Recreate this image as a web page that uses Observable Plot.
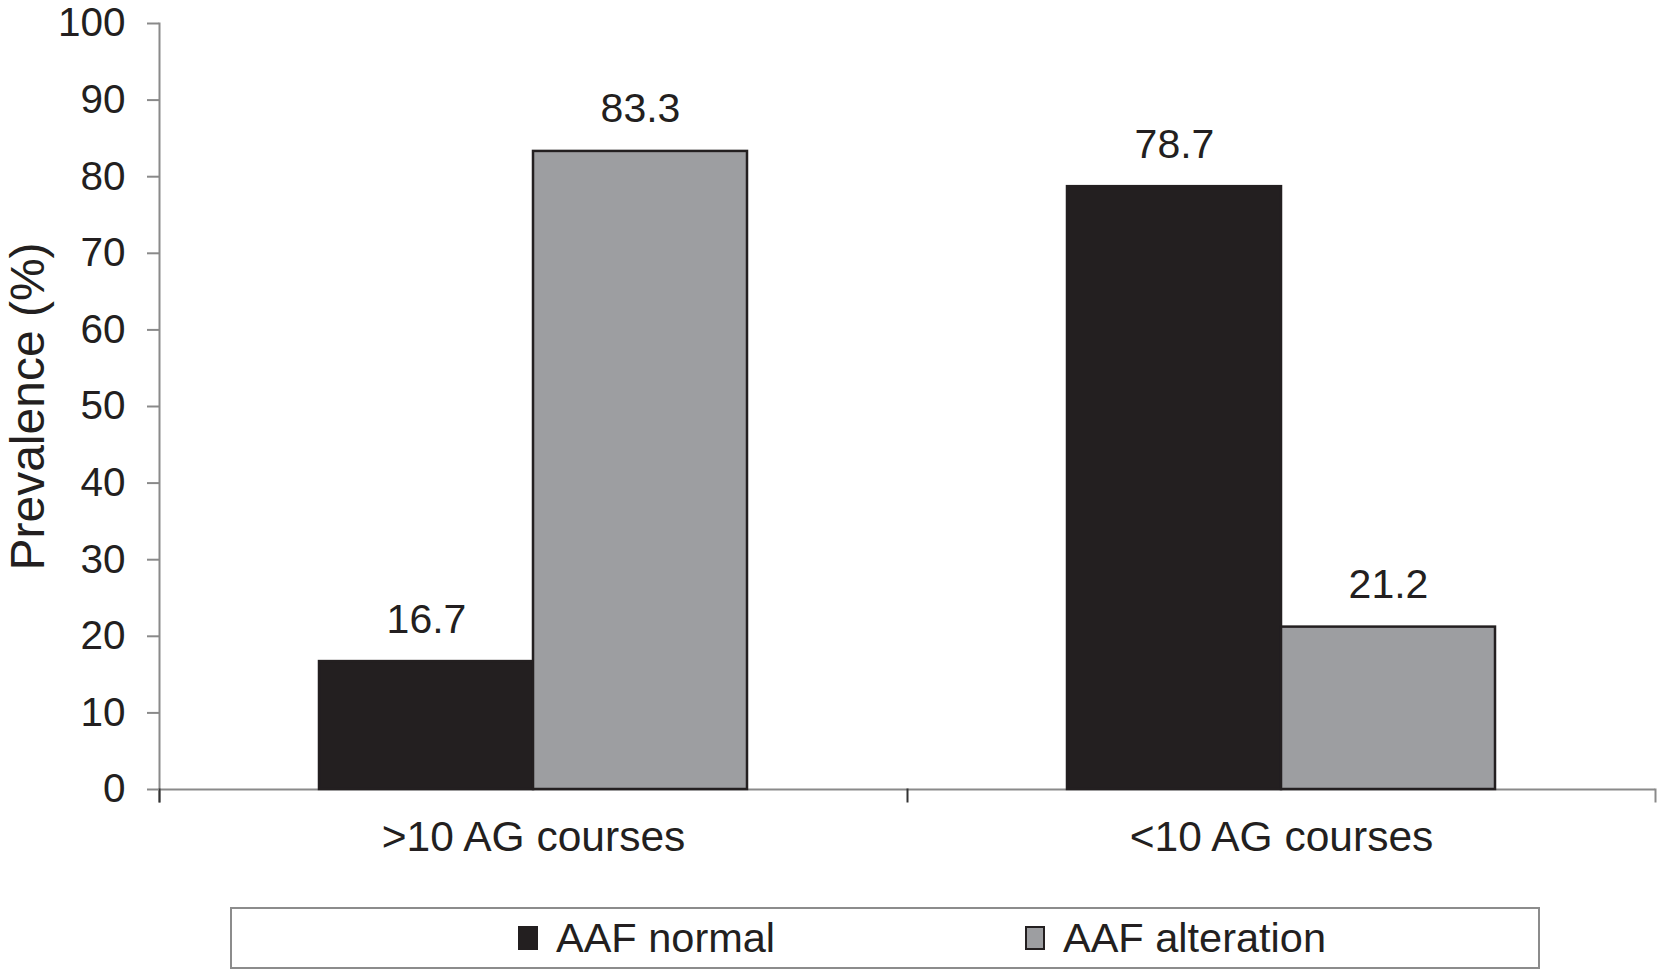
<!DOCTYPE html>
<html>
<head>
<meta charset="utf-8">
<script src="https://cdn.jsdelivr.net/npm/d3@7"></script>
<script src="https://cdn.jsdelivr.net/npm/@observablehq/plot@0.6"></script>
<style>
  html, body { margin: 0; padding: 0; background: #fff; }
  body { width: 1658px; height: 976px; overflow: hidden; font-family: "Liberation Sans", Arial, sans-serif; color: #231f20; }
  #chart svg { display: block; }
  #legend { position: relative; margin-left: 230px; margin-top: 17px; width: 1306px; height: 58px; border: 2px solid #8c8c8c; box-sizing: content-box; }
  .item { position: absolute; top: 0; height: 58px; display: flex; align-items: center; font-size: 41.5px; }
  .swatch { width: 20px; height: 24px; box-sizing: border-box; border: 2px solid #231f20; margin-right: 18px; }
</style>
</head>
<body>
<div id="chart"></div>
<div id="legend"></div>
<script>
const categories = [">10 AG courses", "<10 AG courses"];
const series = ["AAF normal", "AAF alteration"];
const normalValues = [16.7, 78.7];
const alterationValues = [83.3, 21.2];
const yTicks = [0, 10, 20, 30, 40, 50, 60, 70, 80, 90, 100];
const colors = ["#231f20", "#9d9ea1"];

const data = [];
categories.forEach((c, i) => {
  data.push({category: c, series: series[0], value: normalValues[i]});
  data.push({category: c, series: series[1], value: alterationValues[i]});
});

const W = 1658, H = 890;
const mTop = 23, mBottom = 101, mLeft = 158, mRight = 3;
const plotH = H - mTop - mBottom;
const font = '"Liberation Sans", Arial, sans-serif';

const chart = Plot.plot({
  width: W,
  height: H,
  marginTop: mTop,
  marginBottom: mBottom,
  marginLeft: mLeft,
  marginRight: mRight,
  style: {fontFamily: font, color: "#231f20", background: "#fff"},
  fx: {domain: categories, padding: 0, axis: null},
  x: {domain: series, paddingInner: 0, paddingOuter: 0.743, axis: null},
  y: {domain: [0, 100], axis: null},
  color: {domain: series, range: colors},
  marks: [
    Plot.ruleY([0], {stroke: "#8a8a8a", strokeWidth: 2}),
    Plot.frame({anchor: "left", facetAnchor: "left", stroke: "#8a8a8a", strokeWidth: 2, insetBottom: -12}),
    Plot.frame({anchor: "left", stroke: "#333", strokeWidth: 2, insetTop: plotH, insetBottom: -12}),
    Plot.frame({anchor: "right", facetAnchor: "right", stroke: "#8a8a8a", strokeWidth: 2, insetTop: plotH, insetBottom: -12}),
    Plot.axisY({ticks: yTicks, tickSize: 12, tickPadding: 22, stroke: "#8a8a8a", strokeWidth: 2, fontSize: 40.5, fill: "#231f20",
      label: "Prevalence (%)", labelAnchor: "center", labelOffset: 150, labelArrow: "none"}),
    Plot.axisFx({anchor: "bottom", tickSize: 0, tickPadding: 31, fontSize: 42.5, fill: "#231f20", label: null}),
    Plot.barY(data, {fx: "category", x: "series", y: "value", fill: "series", stroke: "#231f20", strokeWidth: 2.5}),
    Plot.text(data, {fx: "category", x: "series", y: "value", text: d => d.value.toFixed(1), lineAnchor: "bottom", dy: -29, fontSize: 41, fill: "#231f20"})
  ]
});
document.getElementById("chart").appendChild(chart);

// enlarge the y-axis title font
chart.querySelectorAll("text").forEach(t => { if (t.textContent === "Prevalence (%)") t.setAttribute("font-size", 48); });

const legend = document.getElementById("legend");
const positions = [286, 793];
series.forEach((s, i) => {
  const item = document.createElement("div");
  item.className = "item";
  item.style.left = positions[i] + "px";
  const sw = document.createElement("div");
  sw.className = "swatch";
  sw.style.background = colors[i];
  item.appendChild(sw);
  const label = document.createElement("span");
  label.textContent = s;
  item.appendChild(label);
  legend.appendChild(item);
});
</script>
</body>
</html>
